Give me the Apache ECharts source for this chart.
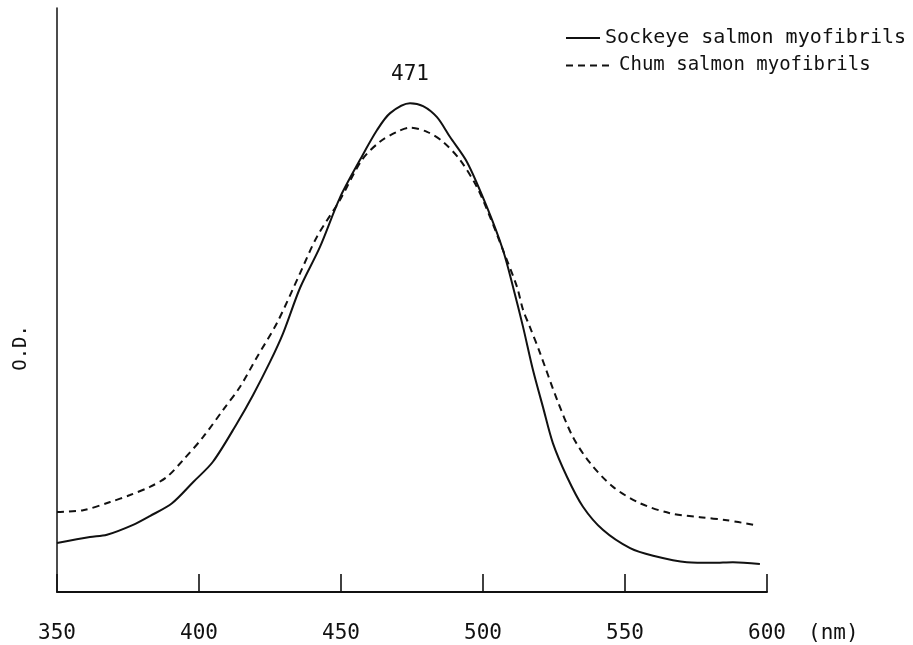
<!DOCTYPE html>
<html>
<head>
<meta charset="utf-8">
<script src="https://cdn.jsdelivr.net/npm/echarts@6/dist/echarts.min.js"></script>
<style>html,body{margin:0;padding:0;background:#fff}#c{width:913px;height:645px}</style>
</head>
<body>
<div id="c"></div>
<script>
// Wavelength (nm) and O.D. (arbitrary units)
const sockeyeNm = [350.0,361.6,367.6,376.8,382.7,390.5,397.9,404.9,413.4,419.0,425.0,429.6,435.6,442.6,449.6,456.7,462.7,467.3,474.3,478.9,483.8,488.4,494.4,501.4,507.0,510.6,514.1,517.6,521.1,524.6,529.6,535.2,542.3,551.8,559.9,571.8,581.0,588.0,597.5];
const sockeyeOD = [0.084,0.094,0.098,0.115,0.130,0.152,0.188,0.223,0.289,0.337,0.394,0.443,0.521,0.591,0.675,0.740,0.791,0.820,0.837,0.832,0.813,0.779,0.736,0.659,0.586,0.522,0.454,0.380,0.317,0.255,0.197,0.146,0.106,0.075,0.062,0.051,0.050,0.051,0.048];
const chumNm = [350.0,359.2,368.7,375.7,382.7,388.7,394.4,401.4,408.5,414.4,420.4,427.5,435.6,441.5,449.6,457.4,463.7,469.7,474.3,480.3,485.9,491.9,497.9,502.5,507.0,512.0,514.1,516.5,520.1,526.1,531.7,537.7,545.8,555.3,565.8,576.4,585.9,595.1];
const chumOD = [0.137,0.140,0.154,0.166,0.180,0.197,0.226,0.265,0.312,0.351,0.402,0.461,0.546,0.608,0.671,0.740,0.771,0.788,0.795,0.788,0.771,0.740,0.693,0.642,0.586,0.522,0.483,0.454,0.409,0.329,0.265,0.221,0.180,0.152,0.135,0.128,0.123,0.115];
const xTicks = [350,400,450,500,550,600];
const seriesNames = ['Sockeye salmon myofibrils','Chum salmon myofibrils'];
const peakLabel = '471';

const FONT = 'DejaVu Sans Mono';
const chart = echarts.init(document.getElementById('c'), null, {renderer:'canvas'});
const zip = (a,b) => a.map((v,i)=>[v,b[i]]);
chart.setOption({
  animation:false,
  backgroundColor:'#fff',
  grid:{left:57,right:146,top:8,bottom:53},
  xAxis:{
    type:'value',min:350,max:600,interval:50,
    axisLine:{show:true,lineStyle:{color:'#111',width:2}},
    axisTick:{show:true,inside:true,length:18,lineStyle:{color:'#111',width:1.6}},
    axisLabel:{margin:31,fontFamily:FONT,fontSize:21,color:'#111',
      formatter:v=>xTicks.includes(v)?String(v):''},
    splitLine:{show:false}
  },
  yAxis:{
    type:'value',min:0,max:1,
    axisLine:{show:true,lineStyle:{color:'#111',width:1.5}},
    axisTick:{show:false},axisLabel:{show:false},splitLine:{show:false}
  },
  legend:[
    {data:[seriesNames[0]],left:560,top:23,itemWidth:34,itemHeight:12,padding:5,
     itemStyle:{opacity:0},textStyle:{fontFamily:FONT,fontSize:20,color:'#111'}},
    {data:[seriesNames[1]],left:560,top:51,itemWidth:48,itemHeight:12,padding:5,
     itemStyle:{opacity:0},textStyle:{fontFamily:FONT,fontSize:19,color:'#111'}}
  ],
  graphic:[
    {type:'text',left:12,top:325,rotation:Math.PI/2,
     style:{text:'O.D.',fontFamily:FONT,fontSize:19,fill:'#111'}},
    {type:'text',left:808,top:623,
     style:{text:'(nm)',fontFamily:FONT,fontSize:21,fill:'#111'}}
  ],
  series:[
    {name:seriesNames[0],type:'line',data:zip(sockeyeNm,sockeyeOD),smooth:0.3,
     symbol:'none',lineStyle:{color:'#111',width:2,type:'solid'},itemStyle:{color:'#111'},
     markPoint:{symbol:'circle',symbolSize:0,
       data:[{coord:[474.3,0.837],value:peakLabel}],
       label:{show:true,position:'top',distance:18,formatter:peakLabel,
         fontFamily:FONT,fontSize:21,color:'#111'}}},
    {name:seriesNames[1],type:'line',data:zip(chumNm,chumOD),smooth:0.3,
     symbol:'none',lineStyle:{color:'#111',width:2,type:[7,5]},itemStyle:{color:'#111'}}
  ]
});
</script>
</body>
</html>
